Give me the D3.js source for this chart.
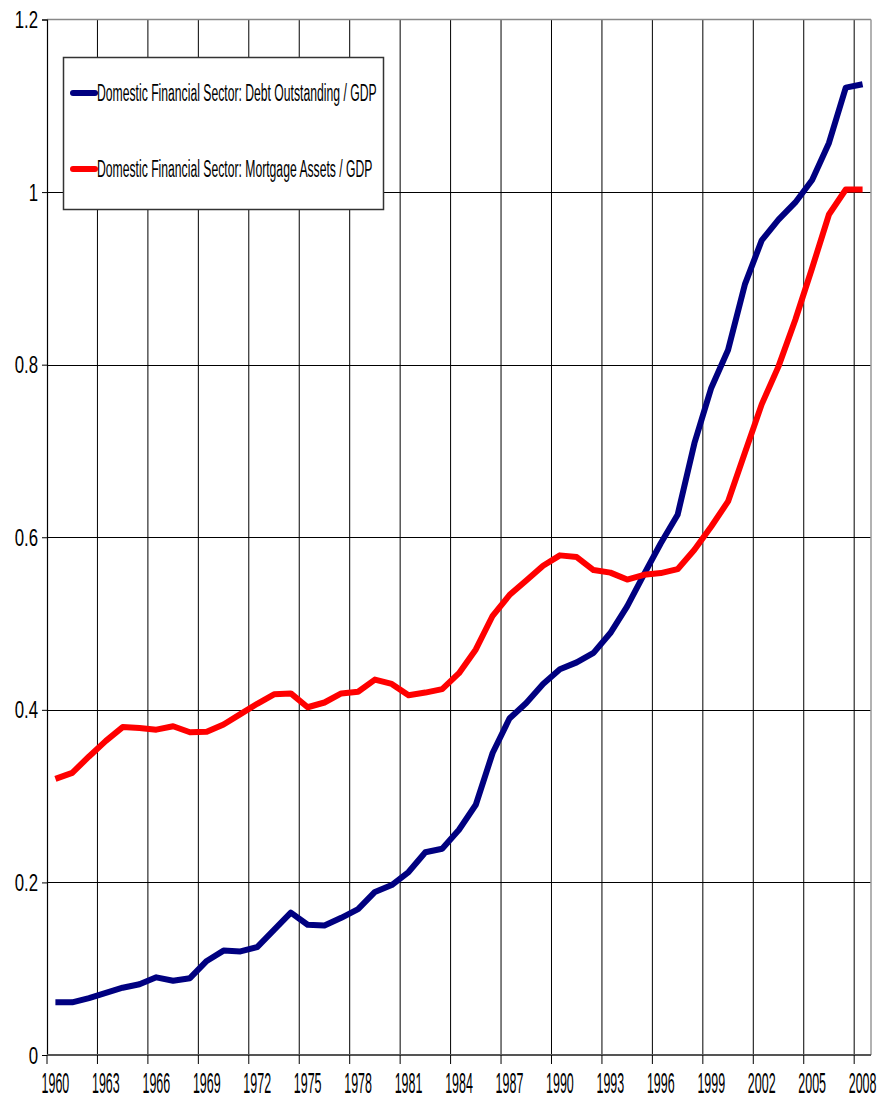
<!DOCTYPE html>
<html>
<head>
<meta charset="utf-8">
<script src="https://cdn.jsdelivr.net/npm/d3@7"></script>
<style>
  html, body { margin: 0; padding: 0; background: #fff; }
  svg { display: block; }
  text { font-family: "Liberation Sans", Arial, sans-serif; fill: #000; }
</style>
</head>
<body>
<svg id="chart" width="894" height="1114"></svg>
<script>
// ---------- data ----------
const years = [1960,1961,1962,1963,1964,1965,1966,1967,1968,1969,
               1970,1971,1972,1973,1974,1975,1976,1977,1978,1979,
               1980,1981,1982,1983,1984,1985,1986,1987,1988,1989,
               1990,1991,1992,1993,1994,1995,1996,1997,1998,1999,
               2000,2001,2002,2003,2004,2005,2006,2007,2008];

const debtOutstanding = [0.061,0.061,0.066,0.072,0.078,0.082,0.090,0.086,0.089,0.109,
                         0.121,0.120,0.125,0.145,0.165,0.151,0.150,0.159,0.169,0.189,
                         0.197,0.212,0.235,0.239,0.261,0.290,0.350,0.390,0.408,0.430,
                         0.447,0.455,0.466,0.489,0.520,0.557,0.593,0.626,0.709,0.773,
                         0.817,0.893,0.944,0.968,0.988,1.014,1.057,1.121,1.125];

const mortgageAssets = [0.320,0.327,0.346,0.364,0.380,0.379,0.377,0.381,0.374,0.3745,
                        0.383,0.395,0.407,0.418,0.419,0.403,0.4085,0.419,0.421,0.435,
                        0.430,0.417,0.420,0.424,0.4425,0.470,0.509,0.533,0.550,0.567,
                        0.579,0.577,0.562,0.559,0.551,0.5565,0.5585,0.563,0.5855,0.6125,
                        0.6415,0.698,0.754,0.798,0.852,0.912,0.974,1.003,1.003];

const seriesNames = ["Domestic Financial Sector: Debt Outstanding / GDP",
                     "Domestic Financial Sector: Mortgage Assets / GDP"];
const seriesColors = ["#000080", "#ff0000"];

const xTickYears = [1960,1963,1966,1969,1972,1975,1978,1981,1984,1987,1990,1993,1996,1999,2002,2005,2008];
const yTickValues = [0, 0.2, 0.4, 0.6, 0.8, 1.0, 1.2];
const yTickLabels = ["0", "0.2", "0.4", "0.6", "0.8", "1", "1.2"];

// ---------- layout ----------
const plotLeft = 47, plotRight = 871, plotTop = 19.5, plotBottom = 1055;

const svg = d3.select("#chart");

const x = d3.scaleBand().domain(years).range([plotLeft, plotRight]).padding(0);
const y = d3.scaleLinear().domain([0, 1.2]).range([plotBottom, plotTop]);
const xc = d => x(d) + x.bandwidth() / 2;

// horizontal gridlines
svg.append("g").selectAll("line")
  .data(yTickValues.filter(v => v > 0 && v < 1.2))
  .join("line")
  .attr("x1", plotLeft).attr("x2", plotRight)
  .attr("y1", d => Math.round(y(d)) + 0.5).attr("y2", d => Math.round(y(d)) + 0.5)
  .attr("stroke", "#000").attr("stroke-width", 1);

// vertical gridlines (category boundaries every 3 years)
svg.append("g").selectAll("line")
  .data(xTickYears.filter(d => d !== 1960))
  .join("line")
  .attr("x1", d => x(d)).attr("x2", d => x(d))
  .attr("y1", plotTop).attr("y2", plotBottom)
  .attr("stroke", "#000").attr("stroke-width", 1);

// plot frame: top and right borders (gray)
svg.append("line").attr("x1", plotLeft).attr("x2", plotRight).attr("y1", plotTop).attr("y2", plotTop)
  .attr("stroke", "#888").attr("stroke-width", 1.5);
svg.append("line").attr("x1", plotRight).attr("x2", plotRight).attr("y1", plotTop).attr("y2", plotBottom)
  .attr("stroke", "#999").attr("stroke-width", 1.5);

// y axis
const yAxis = svg.append("g").attr("transform", `translate(${plotLeft},0)`)
  .call(d3.axisLeft(y).tickValues(yTickValues).tickSize(5).tickPadding(0)
        .tickFormat((d, i) => yTickLabels[i]));
yAxis.select(".domain").attr("stroke", "#000").attr("stroke-width", 1.2);
yAxis.selectAll(".tick line").attr("stroke", "#000");
yAxis.selectAll(".tick text").remove();
yAxis.selectAll(".tick").append("text")
  .attr("text-anchor", "end")
  .attr("transform", "translate(-9,8) scale(0.7,1)")
  .attr("font-size", 24)
  .text((d, i) => yTickLabels[i]);

// x axis line at zero
svg.append("line").attr("x1", plotLeft).attr("x2", plotRight).attr("y1", plotBottom).attr("y2", plotBottom)
  .attr("stroke", "#555").attr("stroke-width", 2);

// x ticks at category boundaries
svg.append("g").selectAll("line")
  .data(xTickYears)
  .join("line")
  .attr("x1", d => x(d)).attr("x2", d => x(d))
  .attr("y1", plotBottom).attr("y2", plotBottom + 9)
  .attr("stroke", "#000").attr("stroke-width", 1);

// x labels centred in category
svg.append("g").selectAll("text")
  .data(xTickYears)
  .join("text")
  .attr("text-anchor", "middle")
  .attr("transform", d => `translate(${xc(d)},1093) scale(0.43,1)`)
  .attr("font-size", 29)
  .text(d => String(d));

// lines
const line = d3.line().x((d, i) => xc(years[i])).y(d => y(d));
[debtOutstanding, mortgageAssets].forEach((vals, k) => {
  svg.append("path")
    .datum(vals)
    .attr("d", line)
    .attr("fill", "none")
    .attr("stroke", seriesColors[k])
    .attr("stroke-width", 6)
    .attr("stroke-linejoin", "round")
    .attr("stroke-linecap", "butt");
});

// legend
const lg = svg.append("g");
lg.append("rect")
  .attr("x", 63.5).attr("y", 57.5).attr("width", 320).attr("height", 152)
  .attr("fill", "#fff").attr("stroke", "#333").attr("stroke-width", 1.5);
const legendRows = [93, 169];
seriesNames.forEach((name, k) => {
  lg.append("line")
    .attr("x1", 73).attr("x2", 95)
    .attr("y1", legendRows[k]).attr("y2", legendRows[k])
    .attr("stroke", seriesColors[k]).attr("stroke-width", 6)
    .attr("stroke-linecap", "round");
  lg.append("text")
    .attr("transform", `translate(97,${legendRows[k] + 8}) scale(0.53,1)`)
    .attr("font-size", 23)
    .text(name);
});
</script>
</body>
</html>
